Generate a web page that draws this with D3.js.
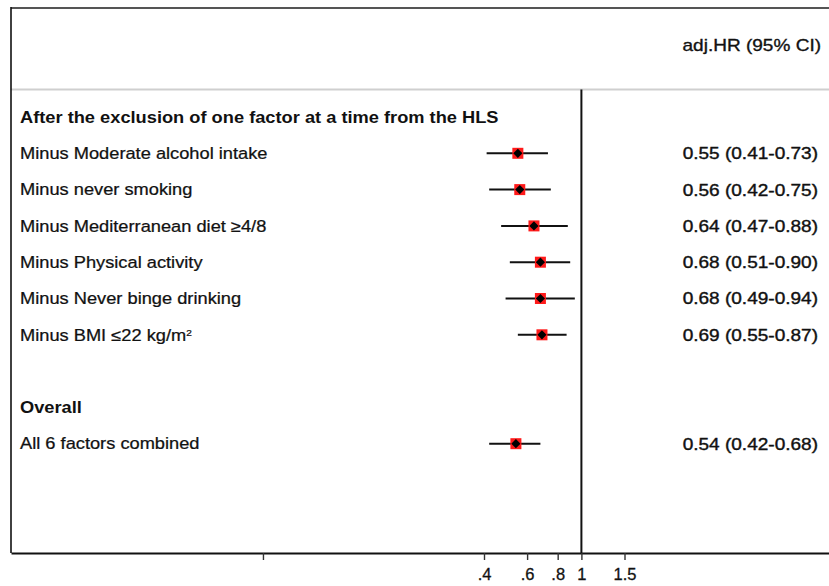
<!DOCTYPE html>
<html>
<head>
<meta charset="utf-8">
<script src="https://cdn.jsdelivr.net/npm/d3@7"></script>
<style>
  html, body { margin: 0; padding: 0; background: #fff; }
  svg { display: block; font-family: "Liberation Sans", Arial, Helvetica, sans-serif; }
</style>
</head>
<body>
<svg id="chart" width="829" height="586"></svg>
<script>
// Sensitivity analysis: healthy lifestyle score with one factor removed at a time
const factorLabels = [
  "Minus Moderate alcohol intake",
  "Minus never smoking",
  "Minus Mediterranean diet \u22654/8",
  "Minus Physical activity",
  "Minus Never binge drinking",
  "Minus BMI \u226422 kg/m"
];
const factorHR   = [0.55, 0.56, 0.64, 0.68, 0.68, 0.69];
const factorLow  = [0.41, 0.42, 0.47, 0.51, 0.49, 0.55];
const factorHigh = [0.73, 0.75, 0.88, 0.90, 0.94, 0.87];

const overallLabel = "All 6 factors combined";
const overallHR   = [0.54];
const overallLow  = [0.42];
const overallHigh = [0.68];

const sectionTitles = ["After the exclusion of one factor at a time from the HLS", "Overall"];
const columnTitle = "adj.HR (95% CI)";

const tickValues = [0.05, 0.4, 0.6, 0.8, 1, 1.5];
const tickLabels = ["", ".4", ".6", ".8", "1", "1.5"];

// Row layout: section header, six factors, spacer, section header, combined
const rows = [];
rows.push({ type: "header", label: sectionTitles[0] });
factorLabels.forEach((l, i) => rows.push({ type: "est", label: l, hr: factorHR[i], lo: factorLow[i], hi: factorHigh[i], sup: i === 5 }));
rows.push({ type: "blank" });
rows.push({ type: "header", label: sectionTitles[1] });
rows.push({ type: "est", label: overallLabel, hr: overallHR[0], lo: overallLow[0], hi: overallHigh[0] });

const svg = d3.select("#chart");
const STRETCH = 1.12;
const frameL = 11, frameR = 829, frameT = 8, sepY = 89.5, axisY = 553;

// log scale anchored on the labelled ticks, extended to the frame edges
const x0 = d3.scaleLog().domain([0.4, 1.5]).range([484, 624.5]);
const x = d3.scaleLog().domain([x0.invert(frameL), x0.invert(frameR)]).range([frameL, frameR]);

const y = d3.scaleLinear().domain([0, rows.length - 1]).range([117, 117 + 36.3 * (rows.length - 1)]);

function place(sel, px, py) {
  sel.attr("transform", `translate(${px},${py}) scale(${STRETCH},1)`);
}
function heavy(sel, w) {
  sel.attr("stroke", "#111").attr("stroke-width", w).attr("paint-order", "stroke");
}

// frame
svg.append("line").attr("x1", frameL).attr("x2", frameR).attr("y1", frameT).attr("y2", frameT)
  .attr("stroke", "#555").attr("stroke-width", 2);
svg.append("line").attr("x1", frameL).attr("x2", frameR).attr("y1", sepY).attr("y2", sepY)
  .attr("stroke", "#cfcfcf").attr("stroke-width", 2);
svg.append("line").attr("x1", frameL).attr("x2", frameL).attr("y1", frameT - 1).attr("y2", axisY)
  .attr("stroke", "#111").attr("stroke-width", 1.6);

// null line at HR = 1
svg.append("line").attr("x1", x(1)).attr("x2", x(1)).attr("y1", sepY).attr("y2", axisY)
  .attr("stroke", "#111").attr("stroke-width", 2);

// column title
svg.append("text").text(columnTitle)
  .attr("text-anchor", "end").attr("font-size", 17).attr("fill", "#111")
  .call(heavy, 0.35)
  .call(place, 821, 51);

// x axis
const axis = d3.axisBottom(x).tickValues(tickValues)
  .tickFormat((d, i) => tickLabels[i]).tickSize(7).tickSizeOuter(0);
const gAxis = svg.append("g").attr("transform", `translate(0,${axisY})`).call(axis);
gAxis.select(".domain").attr("stroke", "#111").attr("stroke-width", 2);
gAxis.selectAll(".tick line").attr("stroke", "#333").attr("stroke-width", 1.4);
gAxis.selectAll(".tick text").attr("font-size", 16.5).attr("fill", "#111")
  .attr("font-family", "Liberation Sans, Arial, sans-serif")
  .attr("y", 0).attr("dy", null)
  .call(heavy, 0.3)
  .attr("transform", `translate(0,27) scale(1.0,1)`);

// row labels
const rowG = svg.append("g");
rows.forEach((r, i) => {
  if (r.type === "blank") return;
  const t = rowG.append("text")
    .attr("font-size", 16.3).attr("fill", "#111")
    .attr("dy", "0.35em")
    .attr("font-weight", r.type === "header" ? "bold" : "normal")
    .call(heavy, r.type === "header" ? 0 : 0.25)
    .call(place, 20, y(i));
  t.append("tspan").text(r.label);
  if (r.sup) t.append("tspan").text("2").attr("font-size", 9).attr("dy", "-0.5em");
});

// estimates: CI line, red box, black diamond, value text
const est = rows.map((r, i) => ({ ...r, i })).filter(r => r.type === "est");
const g = svg.append("g");
g.selectAll("line.ci").data(est).join("line").attr("class", "ci")
  .attr("x1", d => x(d.lo)).attr("x2", d => x(d.hi))
  .attr("y1", d => y(d.i)).attr("y2", d => y(d.i))
  .attr("stroke", "#111").attr("stroke-width", 2);
g.selectAll("rect.box").data(est).join("rect").attr("class", "box")
  .attr("x", d => x(d.hr) - 5.5).attr("y", d => y(d.i) - 5.5)
  .attr("width", 11).attr("height", 11).attr("fill", "#ff1a1a");
const dr = 4.6;
g.selectAll("path.pt").data(est).join("path").attr("class", "pt")
  .attr("d", d => {
    const cx = x(d.hr), cy = y(d.i);
    return `M${cx},${cy - dr}L${cx + dr},${cy}L${cx},${cy + dr}L${cx - dr},${cy}Z`;
  })
  .attr("fill", "#000");

const fmt = d3.format(".2f");
est.forEach(d => {
  svg.append("text")
    .text(`${fmt(d.hr)} (${fmt(d.lo)}-${fmt(d.hi)})`)
    .attr("text-anchor", "end").attr("font-size", 17).attr("fill", "#111")
    .attr("dy", "0.35em")
    .call(heavy, 0.4)
    .call(place, 818, y(d.i));
});
</script>
</body>
</html>
